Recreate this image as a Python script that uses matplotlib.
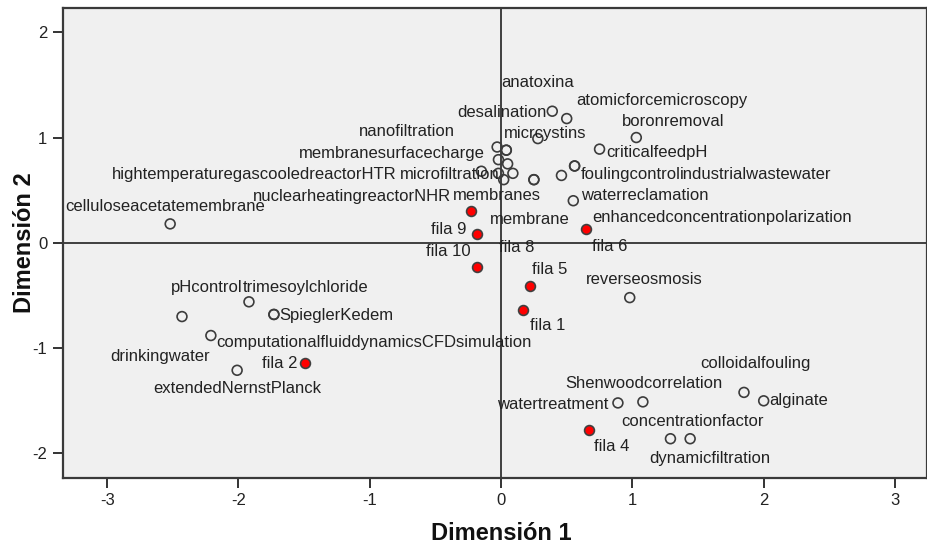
import matplotlib

matplotlib.use("Agg")

import matplotlib.pyplot as plt

plt.rcParams["axes.unicode_minus"] = False

# category points (dimension 1, dimension 2); repeated entries overlap in the original
cat_x = [0.39, 0.50, 1.03, 0.28, -0.03, 0.04, 0.04, 0.75, -0.02, 0.05, 0.56, 0.56,
         -0.15, -0.02, 0.09, 0.02, 0.25, 0.25, 0.46, 0.55,
         -2.52, -1.92, -2.43, -1.73, -1.73, -2.21, -2.01,
         0.98, 1.85, 0.89, 1.08, 2.00, 1.29, 1.44]
cat_y = [1.25, 1.18, 1.00, 0.99, 0.91, 0.88, 0.88, 0.89, 0.79, 0.75, 0.73, 0.73,
         0.68, 0.66, 0.66, 0.60, 0.60, 0.60, 0.64, 0.40,
         0.18, -0.56, -0.70, -0.68, -0.68, -0.88, -1.21,
         -0.52, -1.42, -1.52, -1.51, -1.50, -1.86, -1.86]

# row points
row_names = ["fila 1", "fila 2", "fila 4", "fila 5", "fila 6", "fila 8", "fila 9", "fila 10"]
row_x = [0.17, -1.49, 0.67, 0.22, 0.65, -0.18, -0.23, -0.18]
row_y = [-0.64, -1.14, -1.78, -0.41, 0.13, 0.08, 0.30, -0.23]

# category label texts, with the point each one sits beside
cat_labels = [
    ("anatoxina", 5), ("atomicforcemicroscopy", 1), ("desalination", 0),
    ("nanofiltration", 4), ("micrcystins", 3), ("boronremoval", 2),
    ("membranesurfacecharge", 6), ("criticalfeedpH", 7),
    ("hightemperaturegascooledreactorHTR", 12), ("microfiltration", 13),
    ("foulingcontrol", 10), ("industrialwastewater", 11),
    ("nuclearheatingreactorNHR", 15), ("membranes", 14), ("waterreclamation", 19),
    ("membrane", 16), ("enhancedconcentrationpolarization", 18),
    ("celluloseacetatemembrane", 20), ("pHcontrol", 22), ("trimesoylchloride", 21),
    ("SpieglerKedem", 23), ("computationalfluiddynamicsCFDsimulation", 25),
    ("drinkingwater", 26), ("extendedNernstPlanck", 26), ("reverseosmosis", 27),
    ("colloidalfouling", 28), ("Shenwoodcorrelation", 30), ("watertreatment", 29),
    ("alginate", 31), ("concentrationfactor", 32), ("dynamicfiltration", 33),
]

# label placement: offset (pixels) of the label's left/centre from its point
cat_offsets = [
    (-4.6, 67.3), (10, 18.2), (-95.5, -0.9), (-138.1, 15.5), (-33.8, 4.8),
    (-14, 16), (-207.3, -3.7), (7.1, -3.7), (-369.6, -3.6), (-98.4, -1.5),
    (6.1, -8.9), (105.4, -8.9), (-250.3, -16.7), (-59.5, -22.5), (7.4, 4.9),
    (-43.9, -39.5), (30.9, -42.4), (-105.4, 17), (-10.7, 29.4), (-6.2, 14.7),
    (5.6, -1.1), (5.4, -7), (-126.9, 13.7), (-84.2, -17.9), (-44.1, 18.5),
    (-44.1, 29.2), (-77.2, 18.7), (-120.7, -1.2), (5.5, 0), (-49.5, 17.2),
    (-40.9, -20.1),
]
row_offsets = [(6.7, -15.6), (-43.5, -0.3), (5.3, -16.3), (1.8, 16.2),
               (5.9, -17.4), (22, -13.1), (-40.1, -17.9), (-51.3, 15.2)]

W, H = 927, 544
fig = plt.figure(figsize=(W / 100, H / 100), dpi=100)
fig.patch.set_facecolor("white")
ax = fig.add_axes([62.5 / W, 1 - 477.7 / H, (926.5 - 62.5) / W, (477.7 - 8) / H])
ax.set_facecolor("#f0f0f0")

ax.axhline(0, color="#222222", lw=1.2, zorder=1)
ax.axvline(0, color="#222222", lw=1.2, zorder=1)

ax.scatter(cat_x, cat_y, s=50, facecolors="none", edgecolors="#3c3c3c", linewidths=1.2, zorder=3)
ax.scatter(row_x, row_y, s=50, facecolors="red", edgecolors="#404040", linewidths=1.2, zorder=4)

lab_font = dict(family=["Liberation Sans", "DejaVu Sans"], size=12, color="#222222")
for (text, idx), (dx, dy) in zip(cat_labels, cat_offsets):
    ax.annotate(text, (cat_x[idx], cat_y[idx]), xytext=(dx, dy), textcoords="offset pixels",
                ha="left", va="center", zorder=5, **lab_font)
for name, x, y, (dx, dy) in zip(row_names, row_x, row_y, row_offsets):
    ax.annotate(name, (x, y), xytext=(dx, dy), textcoords="offset pixels",
                ha="left", va="center", zorder=5, **lab_font)

ax.set_xlim(-3.34, 3.24)
ax.set_ylim(-2.23, 2.23)
ax.set_xticks([-3, -2, -1, 0, 1, 2, 3])
ax.set_yticks([-2, -1, 0, 1, 2])

ax.tick_params(length=7, width=1.4, color="#333333", labelsize=12, labelcolor="#222222", pad=4)
for lab in ax.get_xticklabels() + ax.get_yticklabels():
    lab.set_family(["Liberation Sans", "DejaVu Sans"])

for side in ["left", "bottom", "top", "right"]:
    ax.spines[side].set_color("#3a3a3a")
    ax.spines[side].set_linewidth(1.6)

ax.set_xlabel("Dimensión 1", family=["Liberation Sans", "DejaVu Sans"], fontsize=17,
              fontweight="bold", color="#111111", va="center")
ax.set_ylabel("Dimensión 2", family=["Liberation Sans", "DejaVu Sans"], fontsize=17,
              fontweight="bold", color="#111111", va="center")
ax.xaxis.set_label_coords((501.5 - 62.5) / 864, (477.7 - 533.3) / 469.7)
ax.yaxis.set_label_coords((25 - 62.5) / 864, 0.5)

fig.savefig("out.png", dpi=100)
